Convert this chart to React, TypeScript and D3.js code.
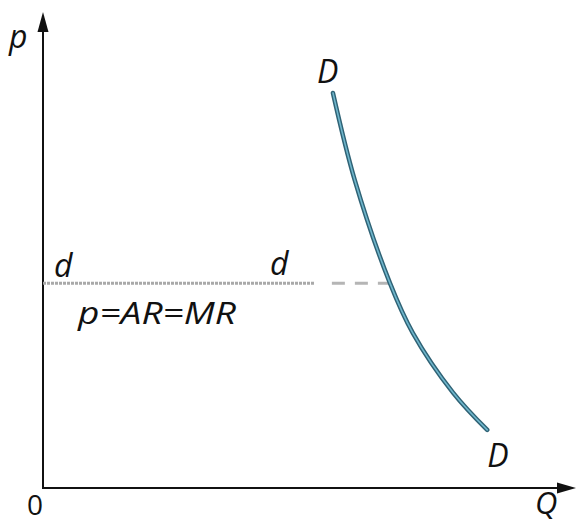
import * as d3 from 'd3';
import React from 'react';

// demand curve D-D (Q, p on a 0..100 scale)
const demandQ = [54.5, 58.6, 65.2, 69.5, 77.1, 83.5];
const demandP = [83.0, 64.7, 43.1, 32.6, 20.0, 12.2];

// firm's horizontal demand d-d at the market price
const ddPrice = 43;
const ddSolidQ = [0, 51];
const ddDashedQ = [54.3, 66.5];

const axisLabels = { y: 'p', x: 'Q', origin: '0' };
const curveLabel = 'D';
const ddLabel = 'd';
const ddCaption = 'p=AR=MR';

const W = 578;
const H = 523;
const margin = { top: 12, right: 3, bottom: 35, left: 43 };

const App: React.FC = () => {
  const x = d3.scaleLinear().domain([0, 100]).range([margin.left, W - margin.right]);
  const y = d3.scaleLinear().domain([0, 100]).range([H - margin.bottom, margin.top]);

  const x0 = x(0);
  const y0 = y(0);
  const xEnd = x(100);
  const yTop = y(100);

  const demandPts: [number, number][] = demandQ.map((q, i) => [x(q), y(demandP[i])]);
  const line = d3
    .line<[number, number]>()
    .x((d) => d[0])
    .y((d) => d[1])
    .curve(d3.curveCatmullRom.alpha(0.5));
  const demandPath = line(demandPts) || '';

  const font = "'Open Sans', 'DejaVu Sans', sans-serif";
  const labelStyle: React.CSSProperties = { fontFamily: font, fontStyle: 'italic' };

  const first = demandPts[0];
  const last = demandPts[demandPts.length - 1];

  return (
    <svg
      width={W}
      height={H}
      style={{ position: 'absolute', left: 0, top: 0, background: '#fff' }}
    >
      {/* axes */}
      <line x1={x0} y1={y0} x2={x0} y2={yTop + 16} stroke="#111" strokeWidth={2} />
      <path
        d={`M${x0},${yTop} L${x0 - 5.5},${yTop + 20} L${x0 + 5.5},${yTop + 20} Z`}
        fill="#111"
      />
      <line x1={x0 - 1} y1={y0} x2={xEnd - 16} y2={y0} stroke="#111" strokeWidth={2} />
      <path
        d={`M${xEnd + 1},${y0} L${xEnd - 18},${y0 - 5.5} L${xEnd - 18},${y0 + 5.5} Z`}
        fill="#111"
      />

      {/* d-d line */}
      <line
        x1={x(ddSolidQ[0])}
        x2={x(ddSolidQ[1])}
        y1={y(ddPrice)}
        y2={y(ddPrice)}
        stroke="#a9a9a9"
        strokeWidth={3}
        strokeDasharray="3 1"
      />
      <line
        x1={x(ddDashedQ[0])}
        x2={x(ddDashedQ[1])}
        y1={y(ddPrice)}
        y2={y(ddPrice)}
        stroke="#b5b5b5"
        strokeWidth={3}
        strokeDasharray="13 10"
      />

      {/* demand curve D-D */}
      <path d={demandPath} fill="none" stroke="#2f6275" strokeWidth={4.5} strokeLinecap="round" />
      <path d={demandPath} fill="none" stroke="#6fb6cc" strokeWidth={1.6} strokeLinecap="round" />

      {/* labels */}
      <text x={9} y={48} fontSize={32} style={labelStyle} fill="#111">
        {axisLabels.y}
      </text>
      <text x={27} y={515} fontSize={28} style={{ fontFamily: font }} fill="#111">
        {axisLabels.origin}
      </text>
      <text x={535} y={514} fontSize={31} style={labelStyle} fill="#111">
        {axisLabels.x}
      </text>
      <text x={first[0] - 16} y={first[1] - 10} fontSize={32} style={labelStyle} fill="#111">
        {curveLabel}
      </text>
      <text x={last[0]} y={last[1] + 37} fontSize={32} style={labelStyle} fill="#111">
        {curveLabel}
      </text>
      <text x={54} y={y(ddPrice) - 6} fontSize={32} style={labelStyle} fill="#111">
        {ddLabel}
      </text>
      <text x={270} y={y(ddPrice) - 8} fontSize={32} style={labelStyle} fill="#111">
        {ddLabel}
      </text>
      <text
        x={78}
        y={324}
        fontSize={31}
        style={labelStyle}
        fill="#111"
        textLength={158}
        lengthAdjust="spacingAndGlyphs"
      >
        {ddCaption}
      </text>
    </svg>
  );
};

export default App;
